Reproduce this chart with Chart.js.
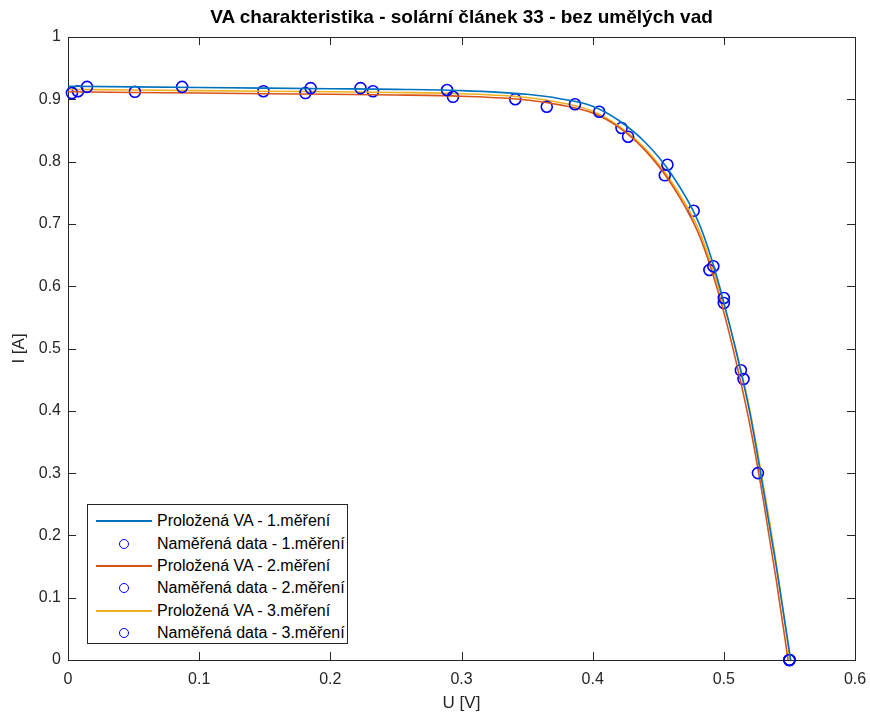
<!DOCTYPE html>
<html>
<head>
<meta charset="utf-8">
<script src="https://cdn.jsdelivr.net/npm/chart.js@4.4.1/dist/chart.umd.min.js"></script>
<style>
  html, body { margin: 0; padding: 0; background: #fff; }
  #wrap { position: relative; width: 870px; height: 716px; }
  #title {
    position: absolute; left: 68px; width: 787px; top: 6px;
    text-align: center; font: bold 19px "Liberation Sans", Arial, sans-serif; color: #000;
  }
  #legend {
    position: absolute; left: 87px; top: 504px; width: 261px; height: 140px;
    box-sizing: border-box; border: 1px solid #262626; background: #fff;
    font: 16px "Liberation Sans", Arial, sans-serif; color: #000; padding-top: 5px;
  }
  .row { height: 22.4px; display: flex; align-items: center; }
  .sample { width: 56px; margin-left: 8px; display: flex; justify-content: center; align-items: center; }
  .line { width: 56px; height: 2px; }
  .dot { width: 8px; height: 8px; border: 1.6px solid #0000ff; border-radius: 50%; }
  .lbl { margin-left: 5px; white-space: nowrap; }
</style>
</head>
<body>
<div id="wrap">
  <canvas id="chart" width="870" height="716"></canvas>
  <div id="title">VA charakteristika - solární článek 33 - bez umělých vad</div>
  <div id="legend"></div>
</div>
<script>
(() => {
  "use strict";

  // fitted curves
  const fit1U = [0, 0.05, 0.1, 0.15, 0.2, 0.25, 0.3, 0.35, 0.375, 0.4, 0.42, 0.44, 0.46, 0.48, 0.49, 0.5, 0.51, 0.52, 0.53, 0.54, 0.551];
  const fit1I = [0.921, 0.920, 0.919, 0.918, 0.917, 0.916, 0.914, 0.908, 0.901, 0.889, 0.866, 0.831, 0.780, 0.706, 0.648, 0.574, 0.490, 0.395, 0.275, 0.150, 0];

  const fit2U = [0, 0.05, 0.1, 0.15, 0.2, 0.25, 0.3, 0.35, 0.375, 0.4, 0.42, 0.44, 0.46, 0.48, 0.49, 0.5, 0.51, 0.52, 0.53, 0.54, 0.549];
  const fit2I = [0.912, 0.911, 0.910, 0.909, 0.908, 0.907, 0.905, 0.899, 0.891, 0.878, 0.855, 0.818, 0.764, 0.688, 0.630, 0.558, 0.473, 0.376, 0.258, 0.128, 0];

  const fit3U = [0, 0.05, 0.1, 0.15, 0.2, 0.25, 0.3, 0.35, 0.375, 0.4, 0.42, 0.44, 0.46, 0.48, 0.49, 0.5, 0.51, 0.52, 0.53, 0.54, 0.5505];
  const fit3I = [0.916, 0.915, 0.914, 0.913, 0.912, 0.911, 0.909, 0.903, 0.895, 0.881, 0.857, 0.821, 0.768, 0.695, 0.638, 0.570, 0.492, 0.400, 0.282, 0.155, 0];

  // measured points
  const meas1U = [0.0145, 0.087, 0.185, 0.223, 0.289, 0.3865, 0.405, 0.457, 0.492, 0.5, 0.526, 0.55];
  const meas1I = [0.920, 0.920, 0.918, 0.918, 0.915, 0.892, 0.880, 0.795, 0.632, 0.581, 0.300, 0];

  const meas2U = [0.003, 0.051, 0.181, 0.2935, 0.365, 0.427, 0.455, 0.489, 0.5, 0.515, 0.55];
  const meas2I = [0.910, 0.912, 0.910, 0.904, 0.888, 0.840, 0.778, 0.626, 0.573, 0.451, 0];

  const meas3U = [0.0076, 0.149, 0.2325, 0.341, 0.422, 0.477, 0.513, 0.55];
  const meas3I = [0.913, 0.913, 0.913, 0.900, 0.854, 0.721, 0.465, 0];

  const xTicks = [0, 0.1, 0.2, 0.3, 0.4, 0.5, 0.6];
  const yTicks = [0, 0.1, 0.2, 0.3, 0.4, 0.5, 0.6, 0.7, 0.8, 0.9, 1];

  const FONT = '"Liberation Sans", Arial, sans-serif';
  const AXIS = "#262626";
  const TICK_LEN = 8;

  const pairs = (us, is) => us.map((u, i) => ({ x: u, y: is[i] }));

  function fitSet(label, us, is, color) {
    return {
      label, data: pairs(us, is), borderColor: color, backgroundColor: color,
      borderWidth: 1.6, pointRadius: 0, cubicInterpolationMode: "monotone", kind: "line"
    };
  }

  function measSet(label, us, is) {
    return {
      label, data: pairs(us, is), showLine: false, borderColor: "#0000ff",
      backgroundColor: "rgba(0,0,0,0)", pointRadius: 5.5, pointBorderWidth: 1.6,
      pointStyle: "circle", clip: false, kind: "dot"
    };
  }

  const datasets = [
    fitSet("Proložená VA - 1.měření", fit1U, fit1I, "#0072bd"),
    measSet("Naměřená data - 1.měření", meas1U, meas1I),
    fitSet("Proložená VA - 2.měření", fit2U, fit2I, "#d95319"),
    measSet("Naměřená data - 2.měření", meas2U, meas2I),
    fitSet("Proložená VA - 3.měření", fit3U, fit3I, "#edb120"),
    measSet("Naměřená data - 3.měření", meas3U, meas3I)
  ];

  const axesBox = {
    id: "axesBox",
    beforeDatasetsDraw(chart) {
      const { ctx, chartArea: a, scales: { x, y } } = chart;
      ctx.save();
      ctx.strokeStyle = AXIS;
      ctx.lineWidth = 1;
      ctx.beginPath();
      xTicks.forEach(v => {
        const px = Math.round(x.getPixelForValue(v)) + 0.5;
        ctx.moveTo(px, a.bottom); ctx.lineTo(px, a.bottom - TICK_LEN);
        ctx.moveTo(px, a.top); ctx.lineTo(px, a.top + TICK_LEN);
      });
      yTicks.forEach(v => {
        const py = Math.round(y.getPixelForValue(v)) + 0.5;
        ctx.moveTo(a.left, py); ctx.lineTo(a.left + TICK_LEN, py);
        ctx.moveTo(a.right, py); ctx.lineTo(a.right - TICK_LEN, py);
      });
      ctx.stroke();
      ctx.strokeRect(Math.round(a.left) + 0.5, Math.round(a.top) + 0.5,
        Math.round(a.right - a.left), Math.round(a.bottom - a.top));
      ctx.restore();
    }
  };

  const tickFont = { family: FONT, size: 16 };

  new Chart(document.getElementById("chart"), {
    type: "line",
    data: { datasets },
    options: {
      responsive: false,
      animation: false,
      layout: { padding: { top: 37, right: 15, left: 0, bottom: 0 } },
      plugins: { legend: { display: false }, tooltip: { enabled: false }, title: { display: false } },
      scales: {
        x: {
          type: "linear", min: 0, max: 0.6,
          afterBuildTicks: s => { s.ticks = xTicks.map(v => ({ value: v })); },
          ticks: { color: AXIS, font: tickFont, padding: 2, maxRotation: 0, callback: v => String(v) },
          grid: { display: false }, border: { display: false },
          title: { display: true, text: "U [V]", color: AXIS, font: { family: FONT, size: 17 }, padding: { top: 2, bottom: 2 } },
          afterFit: s => { s.height = 56; }
        },
        y: {
          type: "linear", min: 0, max: 1,
          afterBuildTicks: s => { s.ticks = yTicks.map(v => ({ value: v })); },
          ticks: { color: AXIS, font: tickFont, padding: -1, callback: v => String(v) },
          grid: { display: false }, border: { display: false },
          title: { display: true, text: "I [A]", color: AXIS, font: { family: FONT, size: 17 }, padding: { top: 9, bottom: 9 } },
          afterFit: s => { s.width = 68; }
        }
      }
    },
    plugins: [axesBox]
  });

  const legend = document.getElementById("legend");
  legend.innerHTML = datasets.map(d => `
    <div class="row">
      <div class="sample">${d.kind === "line"
        ? `<div class="line" style="background:${d.borderColor}"></div>`
        : `<div class="dot"></div>`}</div>
      <div class="lbl">${d.label}</div>
    </div>`).join("");
})();
</script>
</body>
</html>
